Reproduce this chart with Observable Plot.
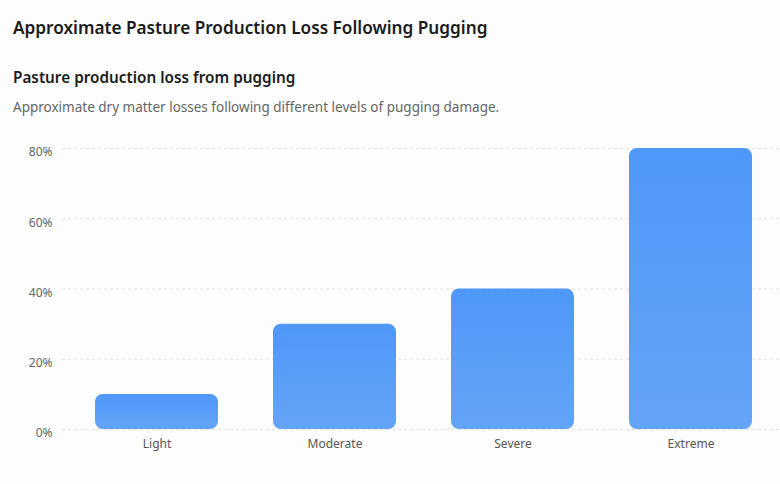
<!DOCTYPE html>
<html><head><meta charset="utf-8">
<script src="https://cdn.jsdelivr.net/npm/d3@7"></script>
<script src="https://cdn.jsdelivr.net/npm/@observablehq/plot@0.6"></script>
<style>
html,body{margin:0;padding:0;background:#fdfdfd;}
body{width:780px;height:484px;position:relative;overflow:hidden;font-family:"Noto Sans",sans-serif;}
.t{position:absolute;left:13px;white-space:nowrap;}
#title{top:16px;font-size:17.2px;line-height:24px;font-weight:600;color:#1b1b1b;}
#sub{top:66px;font-size:15.3px;line-height:22px;font-weight:600;color:#1b1b1b;}
#desc{top:97px;font-size:13.5px;line-height:20px;font-weight:400;color:#666;}
#chart{position:absolute;left:0;top:130px;}
</style></head>
<body>
<div class="t" id="title">Approximate Pasture Production Loss Following Pugging</div>
<div class="t" id="sub">Pasture production loss from pugging</div>
<div class="t" id="desc">Approximate dry matter losses following different levels of pugging damage.</div>
<div id="chart"></div>
<script>
const categories = ["Light", "Moderate", "Severe", "Extreme"];
const losses = [10, 30, 40, 80];
const yTicks = [0, 20, 40, 60, 80];

const data = categories.map((c, i) => ({category: c, loss: losses[i]}));

const chart = Plot.plot({
  width: 780,
  height: 340,
  marginLeft: 62,
  marginRight: 0,
  marginTop: 18,
  marginBottom: 41,
  style: {background: "transparent", fontFamily: "'Noto Sans', sans-serif", fontSize: "12px", color: "#666", overflow: "visible"},
  x: {domain: categories, range: [61, 786], paddingInner: 0.309, paddingOuter: 0.19, label: null},
  y: {domain: [0, 80], label: null},
  marks: [
    Plot.gridY(yTicks, {stroke: "#e2e2e2", strokeOpacity: 1, strokeDasharray: "3,3"}),
    Plot.barY(data, {x: "category", y: "loss", fill: "url(#barGrad)", rx: 8}),
    Plot.axisY(yTicks, {tickSize: 0, tickPadding: 10, tickFormat: d => d + "%", dy: 4, fill: "#666", fontSize: 12, label: null}),
    Plot.axisX({tickSize: 0, tickPadding: 10, fill: "#555", fontSize: 12, label: null})
  ]
});

d3.select(chart).insert("defs", ":first-child").html(
  '<linearGradient id="barGrad" x1="0" y1="0" x2="0" y2="1">' +
  '<stop offset="0" stop-color="#4f97f8"/><stop offset="1" stop-color="#63a4f7"/>' +
  '</linearGradient>');

document.getElementById("chart").appendChild(chart);
</script>
</body></html>
